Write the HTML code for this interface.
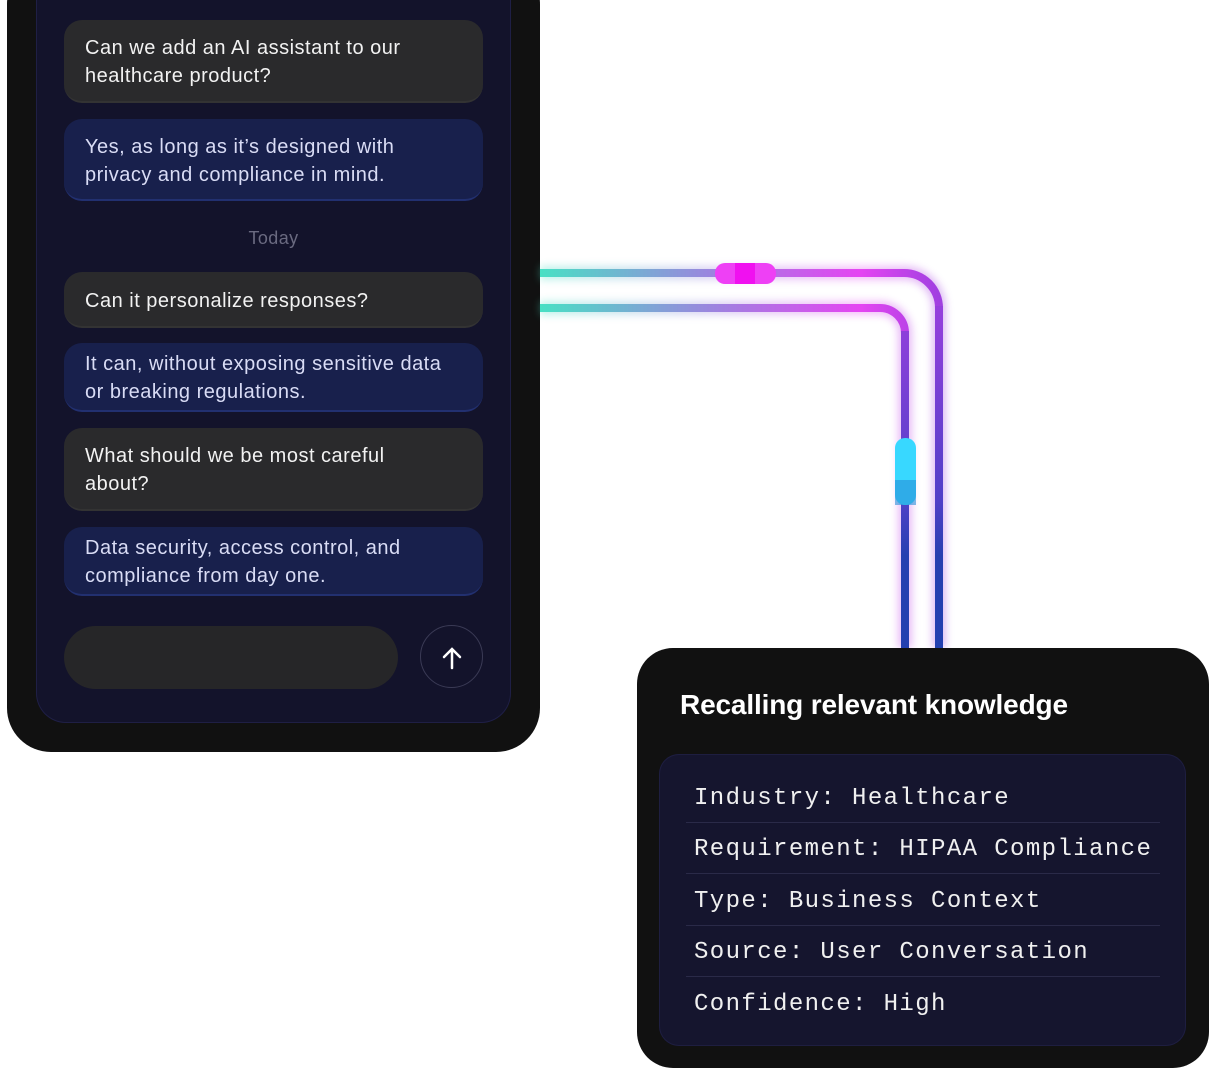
<!DOCTYPE html>
<html><head><meta charset="utf-8"><style>
html,body{margin:0;padding:0;background:#fff;width:1209px;height:1068px;overflow:hidden;position:relative;font-family:"Liberation Sans",sans-serif}
.phone{position:absolute;left:7px;top:-40px;width:533px;height:792px;background:#111111;border-radius:44px}
.panel{position:absolute;left:36px;top:-30px;width:475px;height:753px;background:#13132b;border-radius:30px;box-shadow:inset 0 0 0 1px #1f1f45}
.b{position:absolute;left:64px;width:419px;border-radius:18px;box-sizing:border-box;padding:3px 21px 0;font-size:20px;letter-spacing:0.5px;line-height:28px;display:flex;align-items:center;white-space:nowrap}
.g{background:#2a2a2c;color:#f2f2f2;border-bottom:2px solid #333}
.u{background:#18204c;color:#d9dcf5;border-bottom:2px solid #223070}
.today{position:absolute;left:0;width:547px;top:228px;text-align:center;color:#6a6a80;font-size:18px;letter-spacing:0.4px}
.input{position:absolute;left:64px;top:626px;width:334px;height:63px;border-radius:32px;background:#262628}
.btn{position:absolute;left:420px;top:625px;width:63px;height:63px;border-radius:50%;border:1px solid #3a3a55;box-sizing:border-box}
.card{position:absolute;left:637px;top:648px;width:572px;height:420px;background:#111;border-radius:36px}
.title{position:absolute;left:680px;top:689px;color:#fff;font-size:28px;font-weight:bold;letter-spacing:-0.15px}
.box{position:absolute;left:659px;top:754px;width:527px;height:292px;background:#15152e;border-radius:20px;box-shadow:inset 0 0 0 1px #1e1e40}
.row{position:absolute;left:694px;font-family:"Liberation Mono",monospace;font-size:24px;letter-spacing:1.4px;color:#f0f0f0;line-height:30px}
.div{position:absolute;left:686px;width:474px;height:1px;background:#2a2a48}
</style></head><body>
<div class="phone"></div>
<div class="panel"></div>
<div class="b g" style="top:20px;height:83px">Can we add an AI assistant to our<br>healthcare product?</div>
<div class="b u" style="top:119px;height:82px">Yes, as long as it’s designed with<br>privacy and compliance in mind.</div>
<div class="today">Today</div>
<div class="b g" style="top:272px;height:56px">Can it personalize responses?</div>
<div class="b u" style="top:343px;height:69px">It can, without exposing sensitive data<br>or breaking regulations.</div>
<div class="b g" style="top:428px;height:83px">What should we be most careful<br>about?</div>
<div class="b u" style="top:527px;height:69px">Data security, access control, and<br>compliance from day one.</div>
<div class="input"></div>
<div class="btn"><svg width="61" height="61" viewBox="0 0 61 61"><path d="M31 42V23M23 31l8-8 8 8" stroke="#fff" stroke-width="2.5" fill="none" stroke-linecap="round"/></svg></div>
<svg style="position:absolute;left:0;top:0" width="1209" height="1068">
<defs>
<linearGradient id="h" gradientUnits="userSpaceOnUse" x1="540" y1="0" x2="940" y2="0"><stop offset="0" stop-color="#48e0c4"/><stop offset="0.45" stop-color="#a080e0"/><stop offset="0.8" stop-color="#e545f2"/><stop offset="1" stop-color="#a040e0"/></linearGradient>
<linearGradient id="v" gradientUnits="userSpaceOnUse" x1="0" y1="280" x2="0" y2="648"><stop offset="0" stop-color="#a040e0"/><stop offset="0.6" stop-color="#5040c8"/><stop offset="0.75" stop-color="#2640b0"/><stop offset="1" stop-color="#2340b0"/></linearGradient>
<filter id="gl"><feGaussianBlur stdDeviation="4"/></filter>
</defs>
<g opacity="0.35" filter="url(#gl)">
<path d="M540 273H904a35 35 0 0 1 35 35V648" stroke="url(#h)" stroke-width="14" fill="none"/>
<path d="M540 308H880a25 25 0 0 1 25 25V648" stroke="url(#h)" stroke-width="14" fill="none"/>
</g>
<path d="M540 273H904a35 35 0 0 1 35 35" stroke="url(#h)" stroke-width="8" fill="none"/>
<path d="M939 306V648" stroke="url(#v)" stroke-width="8"/>
<path d="M540 308H880a25 25 0 0 1 25 25" stroke="url(#h)" stroke-width="8" fill="none"/>
<path d="M905 331V648" stroke="url(#v)" stroke-width="8"/>
<rect x="715" y="263" width="61" height="21" rx="10" fill="#ee40f5"/>
<rect x="735" y="263" width="20" height="21" fill="#f010f0"/>
<rect x="895" y="438" width="21" height="67" rx="10" fill="#38d8ff"/>
<rect x="895" y="480" width="21" height="25" fill="#2a90d8" opacity="0.6"/>
</svg>
<div class="card"></div>
<div class="title">Recalling relevant knowledge</div>
<div class="box"></div>
<div class="row" style="top:784px">Industry: Healthcare</div>
<div class="div" style="top:822px"></div>
<div class="row" style="top:835px">Requirement: HIPAA Compliance</div>
<div class="div" style="top:873px"></div>
<div class="row" style="top:887px">Type: Business Context</div>
<div class="div" style="top:925px"></div>
<div class="row" style="top:938px">Source: User Conversation</div>
<div class="div" style="top:976px"></div>
<div class="row" style="top:990px">Confidence: High</div>
</body></html>
